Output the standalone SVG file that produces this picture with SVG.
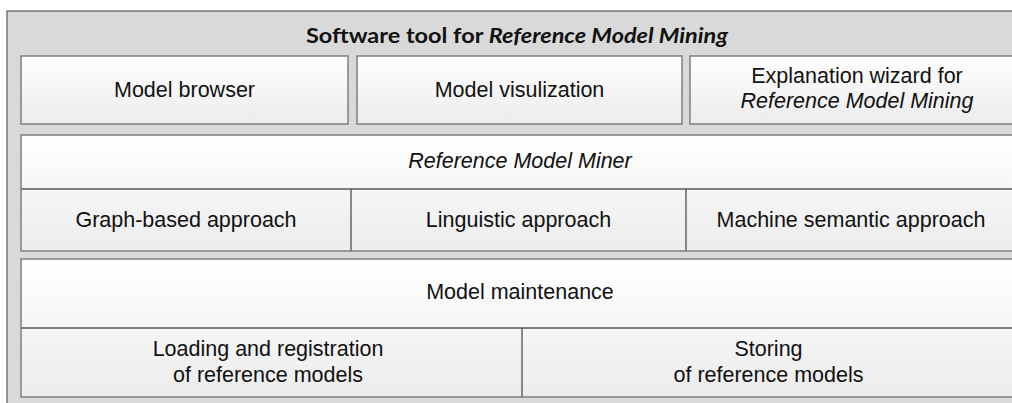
<svg xmlns="http://www.w3.org/2000/svg" width="1012" height="403" viewBox="0 0 1012 403">
  <defs>
    <linearGradient id="g" x1="0" y1="0" x2="0" y2="1">
      <stop offset="0" stop-color="#ffffff"/>
      <stop offset="1" stop-color="#ececec"/>
    </linearGradient>
  </defs>
  <style>
    .outer { fill: #d9d9d9; stroke: #5a5a5a; stroke-width: 1.2; }
    .box { fill: url(#g); stroke: #7f7f7f; stroke-width: 1.5; }
    .div { stroke: #404040; stroke-width: 1.2; fill: none; }
    .hdiv { stroke: #808080; stroke-width: 1.8; fill: none; }
    .t { font-family: "Liberation Sans", Arial, sans-serif; font-size: 21.5px; fill: #111; text-anchor: middle; }
    .i { font-style: italic; }
    .title { font-family: Lato, "Open Sans", sans-serif; font-weight: bold; font-size: 21px; fill: #111; text-anchor: middle; }
  </style>

  <g id="container">
    <rect class="outer" x="7" y="11" width="1020" height="400"/>
    <text class="title" x="517" y="43" textLength="422" lengthAdjust="spacingAndGlyphs">Software tool for <tspan font-style="italic">Reference Model Mining</tspan></text>
  </g>

  <g id="model-browser">
    <rect class="box" x="21" y="56" width="327" height="68"/>
    <text class="t" x="184.5" y="97">Model browser</text>
  </g>
  <g id="model-visualization">
    <rect class="box" x="357" y="56" width="325" height="68"/>
    <text class="t" x="519.5" y="97">Model visulization</text>
  </g>
  <g id="explanation-wizard">
    <rect class="box" x="690" y="56" width="334" height="68"/>
    <text class="t" x="857" y="83">Explanation wizard for</text>
    <text class="t i" x="857" y="108">Reference Model Mining</text>
  </g>

  <g id="reference-model-miner">
    <rect class="box" x="21" y="135" width="1000" height="116"/>
    <line class="hdiv" x1="21" y1="189" x2="1021" y2="189"/>
    <text class="t i" x="520" y="168">Reference Model Miner</text>
  </g>
  <g id="graph-based-approach">
    <text class="t" x="186" y="227">Graph-based approach</text>
  </g>
  <g id="linguistic-approach">
    <text class="t" x="518.5" y="227">Linguistic approach</text>
  </g>
  <g id="machine-semantic-approach">
    <text class="t" x="851" y="227">Machine semantic approach</text>
  </g>

  <g id="model-maintenance">
    <rect class="box" x="21" y="259" width="1000" height="138"/>
    <line class="hdiv" x1="21" y1="328" x2="1021" y2="328"/>
    <text class="t" x="520" y="299">Model maintenance</text>
  </g>
  <g id="loading-registration">
    <text class="t" x="268" y="356">Loading and registration</text>
    <text class="t" x="268" y="382">of reference models</text>
  </g>
  <g id="storing">
    <text class="t" x="768.5" y="356">Storing</text>
    <text class="t" x="768.5" y="382">of reference models</text>
  </g>

  <g id="connectors">
    <line class="div" x1="351" y1="189" x2="351" y2="250.5"/>
    <line class="div" x1="686" y1="189" x2="686" y2="250.5"/>
    <line class="div" x1="522" y1="328" x2="522" y2="396.5" stroke="#7f7f7f"/>
  </g>
</svg>
